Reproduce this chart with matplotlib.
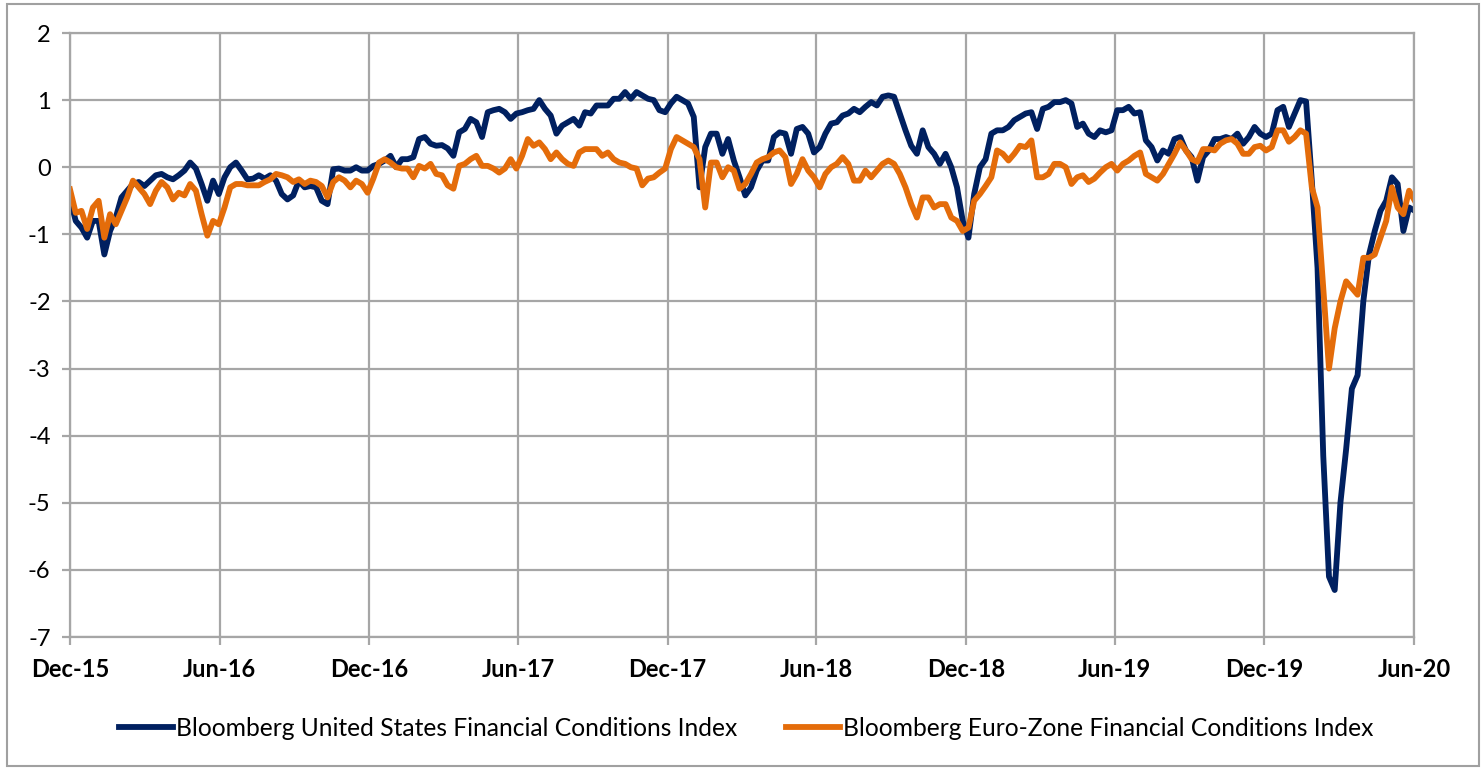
import pandas as pd
import matplotlib.pyplot as plt
import matplotlib.dates as mdates
from matplotlib.patches import Rectangle

# weekly readings, Dec-15 to Jun-20
start = "2015-12-01"

us_fci = [
    -0.47, -0.8, -0.9, -1.05, -0.8, -0.8, -1.3, -0.95, -0.75, -0.45, -0.35, -0.25, -0.22,
    -0.28, -0.2, -0.12, -0.1, -0.15, -0.18, -0.12, -0.05, 0.07, -0.02, -0.25, -0.5, -0.2,
    -0.4, -0.15, 0.0, 0.07, -0.05, -0.18, -0.17, -0.12, -0.17, -0.12, -0.2, -0.4, -0.48,
    -0.42, -0.2, -0.3, -0.28, -0.3, -0.5, -0.55, -0.03, -0.02, -0.05, -0.05, 0.0, -0.05,
    -0.05, 0.02, 0.05, 0.1, 0.17, 0.0, 0.12, 0.12, 0.15, 0.42, 0.45, 0.35, 0.32,
    0.33, 0.28, 0.17, 0.52, 0.57, 0.72, 0.67, 0.45, 0.82, 0.85, 0.87, 0.82, 0.72,
    0.8, 0.82, 0.85, 0.87, 1.0, 0.87, 0.77, 0.5, 0.62, 0.67, 0.72, 0.62, 0.82,
    0.8, 0.92, 0.92, 0.92, 1.02, 1.02, 1.12, 1.02, 1.12, 1.07, 1.02, 1.0, 0.85,
    0.82, 0.95, 1.05, 1.0, 0.95, 0.75, -0.3, 0.3, 0.5, 0.5, 0.2, 0.42, 0.1,
    -0.15, -0.42, -0.3, -0.05, 0.1, 0.1, 0.45, 0.52, 0.5, 0.2, 0.57, 0.6, 0.5,
    0.22, 0.3, 0.5, 0.65, 0.67, 0.77, 0.8, 0.87, 0.82, 0.9, 0.97, 0.92, 1.05,
    1.07, 1.05, 0.8, 0.55, 0.32, 0.2, 0.55, 0.3, 0.2, 0.05, 0.2, 0.0, -0.3,
    -0.8, -1.05, -0.4, 0.0, 0.12, 0.5, 0.55, 0.55, 0.6, 0.7, 0.75, 0.8, 0.82,
    0.57, 0.87, 0.9, 0.97, 0.97, 1.0, 0.95, 0.6, 0.65, 0.5, 0.45, 0.55, 0.52,
    0.55, 0.85, 0.85, 0.9, 0.8, 0.82, 0.4, 0.3, 0.1, 0.25, 0.2, 0.42, 0.45,
    0.25, 0.15, -0.2, 0.15, 0.25, 0.42, 0.42, 0.45, 0.42, 0.5, 0.35, 0.45, 0.6,
    0.5, 0.45, 0.5, 0.85, 0.9, 0.6, 0.8, 1.0, 0.98, -0.2, -1.5, -4.3, -6.1, -6.3,
    -5.0, -4.2, -3.3, -3.1, -2.0, -1.3, -0.95, -0.65, -0.5, -0.15, -0.25, -0.95, -0.6, -0.65,
]

ez_fci = [
    -0.33, -0.68, -0.65, -0.92, -0.6, -0.5, -1.05, -0.7, -0.85, -0.65, -0.45, -0.2, -0.3,
    -0.4, -0.55, -0.35, -0.22, -0.3, -0.48, -0.38, -0.42, -0.25, -0.35, -0.7, -1.02, -0.8,
    -0.85, -0.6, -0.3, -0.25, -0.25, -0.27, -0.27, -0.27, -0.22, -0.18, -0.1, -0.12, -0.15,
    -0.22, -0.18, -0.25, -0.2, -0.22, -0.28, -0.45, -0.22, -0.15, -0.2, -0.3, -0.2, -0.25,
    -0.38, -0.17, 0.07, 0.12, 0.07, 0.0, -0.02, -0.02, -0.15, 0.02, -0.02, 0.05, -0.1,
    -0.12, -0.27, -0.32, 0.02, 0.05, 0.12, 0.17, 0.02, 0.02, -0.02, -0.08, -0.02, 0.12,
    -0.02, 0.17, 0.42, 0.32, 0.37, 0.27, 0.12, 0.22, 0.12, 0.05, 0.02, 0.22, 0.27,
    0.27, 0.27, 0.17, 0.22, 0.12, 0.07, 0.05, 0.0, -0.02, -0.27, -0.17, -0.15, -0.08,
    -0.02, 0.27, 0.45, 0.4, 0.35, 0.3, 0.12, -0.6, 0.07, 0.07, -0.15, 0.0, -0.05,
    -0.32, -0.25, -0.1, 0.07, 0.12, 0.15, 0.22, 0.25, 0.15, -0.25, -0.1, 0.12, -0.05,
    -0.15, -0.3, -0.1, 0.0, 0.05, 0.15, 0.05, -0.2, -0.2, -0.05, -0.15, -0.05, 0.05,
    0.1, 0.05, -0.1, -0.3, -0.55, -0.75, -0.45, -0.45, -0.6, -0.55, -0.55, -0.75, -0.8,
    -0.95, -0.9, -0.5, -0.4, -0.28, -0.15, 0.25, 0.2, 0.1, 0.2, 0.32, 0.3, 0.4,
    -0.15, -0.15, -0.1, 0.05, 0.05, 0.0, -0.25, -0.15, -0.12, -0.22, -0.17, -0.08, 0.0,
    0.05, -0.05, 0.05, 0.1, 0.17, 0.22, -0.1, -0.15, -0.2, -0.1, 0.05, 0.2, 0.37,
    0.25, 0.12, 0.08, 0.27, 0.27, 0.25, 0.35, 0.4, 0.42, 0.35, 0.2, 0.2, 0.3,
    0.32, 0.25, 0.3, 0.55, 0.55, 0.38, 0.45, 0.55, 0.5, -0.3, -0.6, -1.8, -3.0, -2.4,
    -2.0, -1.7, -1.8, -1.9, -1.35, -1.35, -1.3, -1.05, -0.8, -0.3, -0.6, -0.7, -0.35, -0.5,
]

dates = pd.date_range(start, periods=len(us_fci), freq="7D")

us_label = "Bloomberg United States Financial Conditions Index"
ez_label = "Bloomberg Euro-Zone Financial Conditions Index"

plt.rcParams['font.family'] = ['Lato', 'DejaVu Sans']
plt.rcParams['axes.unicode_minus'] = False

grid_col = '#A6A6A6'

fig = plt.figure(figsize=(14.84, 7.68), dpi=100)
ax = fig.add_axes([70 / 1484, 1 - 637 / 768, 1344 / 1484, 604 / 768])

ax.plot(dates, us_fci, color='#002060', lw=4.2, label=us_label, solid_joinstyle='round')
ax.plot(dates, ez_fci, color='#E46C0A', lw=4.2, label=ez_label, solid_joinstyle='round')

ax.set_ylim(-7, 2)
ax.set_yticks(range(-7, 3))
ax.set_xlim(pd.Timestamp("2015-12-01"), pd.Timestamp("2020-06-01"))
ax.set_xticks(pd.date_range("2015-12-01", "2020-06-01", freq="6MS"))
ax.xaxis.set_major_formatter(mdates.DateFormatter("%b-%y"))

ax.grid(True, color=grid_col, lw=1.6)
ax.set_axisbelow(True)
for s in ax.spines.values():
    s.set_color(grid_col)
    s.set_linewidth(1.6)
ax.tick_params(axis='both', color=grid_col, width=1.6, length=6, labelsize=17)
ax.tick_params(axis='x', pad=9)
ax.tick_params(axis='y', pad=8)
for lab in ax.get_xticklabels():
    lab.set_fontweight('bold')

fig.legend(loc='center', bbox_to_anchor=(746 / 1484, 1 - 728 / 768), ncol=2,
           frameon=False, fontsize=17.7, handlelength=2.2, handletextpad=0.1,
           columnspacing=2.0)

fig.patches.append(Rectangle((7 / 1484, 2 / 768), 1472 / 1484, 762 / 768,
                             transform=fig.transFigure, fill=False,
                             edgecolor='#A0A0A0', lw=1.5))

fig.savefig("out.png", dpi=100)
